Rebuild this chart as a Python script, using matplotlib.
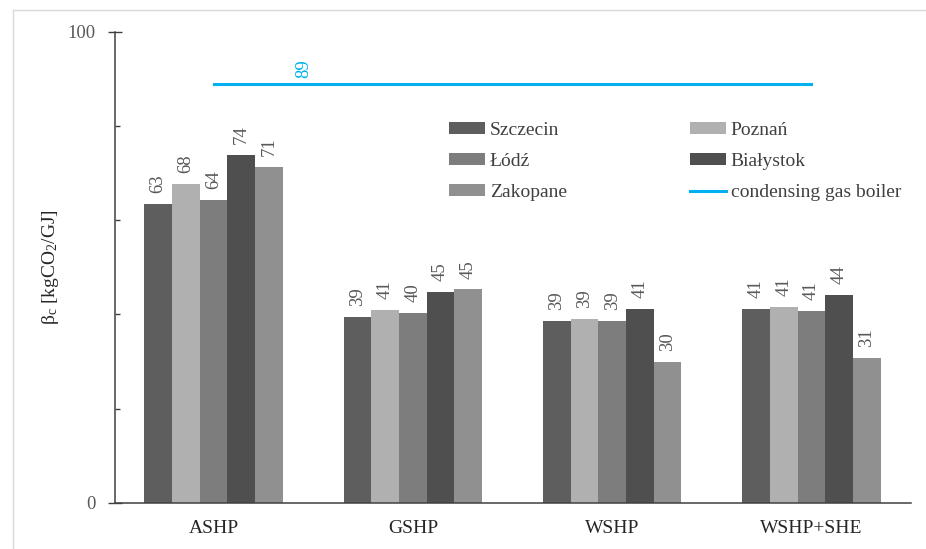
import matplotlib
matplotlib.use("Agg")
import matplotlib.pyplot as plt
from matplotlib.lines import Line2D
import numpy as np

plt.rcParams['font.family'] = ['Liberation Serif', 'DejaVu Serif']
plt.rcParams['mathtext.fontset'] = 'custom'
plt.rcParams['mathtext.rm'] = 'Liberation Serif'
plt.rcParams['mathtext.it'] = 'Liberation Serif:italic'

categories = ['ASHP', 'GSHP', 'WSHP', 'WSHP+SHE']
cities = ['Szczecin', 'Poznań', 'Łódź', 'Białystok', 'Zakopane']
values = {
    'Szczecin':  [63.4, 39.4, 38.7, 41.2],
    'Poznań':    [67.8, 40.9, 39.0, 41.5],
    'Łódź':      [64.4, 40.3, 38.7, 40.8],
    'Białystok': [73.8, 44.7, 41.2, 44.1],
    'Zakopane':  [71.3, 45.3, 29.9, 30.8],
}
labels = {
    'Szczecin':  [63, 39, 39, 41],
    'Poznań':    [68, 41, 39, 41],
    'Łódź':      [64, 40, 39, 41],
    'Białystok': [74, 45, 41, 44],
    'Zakopane':  [71, 45, 30, 31],
}
gas_boiler = 89
gas_label = '89'
colors = {
    'Szczecin': '#5E5E5E',
    'Poznań': '#B0B0B0',
    'Łódź': '#7D7D7D',
    'Białystok': '#4F4F4F',
    'Zakopane': '#909090',
}

fig = plt.figure(figsize=(9.26, 5.49), dpi=100)
ax = fig.add_axes([115/926, 46.3/549, 796/926, 470.7/549])

x = np.arange(len(categories))
w = 0.139
bars = {}
for i, c in enumerate(cities):
    pos = x + (i - 2) * w
    bars[c] = ax.bar(pos, values[c], width=w, color=colors[c], label=c, zorder=2)
    for px, v, lab in zip(pos, values[c], labels[c]):
        ax.annotate(str(lab), xy=(px, v), xytext=(0, 7.9), textcoords='offset points',
                    rotation=90, ha='center', va='bottom', color='#595959', fontsize=13.5)

gl, = ax.plot([x[0], x[-1]], [gas_boiler, gas_boiler], color='#00B0F0', lw=2.2,
              solid_capstyle='projecting', label='condensing gas boiler', zorder=3)
ax.annotate(gas_label, xy=(0.45, gas_boiler), xytext=(0, 4.3), textcoords='offset points',
            rotation=90, ha='center', va='bottom', color='#00B0F0', fontsize=13.5)

ax.set_xlim(-0.495, 3.5)
ax.set_ylim(0, 100)
ax.set_xticks(x)
ax.set_xticklabels(categories)
ax.set_yticks([0, 100])
ax.set_yticks([20, 40, 60, 80], minor=True)
ax.tick_params(axis='x', length=0, pad=12.5, labelsize=14, labelcolor='#262626')
ax.tick_params(axis='y', which='major', direction='inout', length=9.4, width=1,
               color='#404040', pad=9, labelsize=13.5, labelcolor='#595959')
ax.tick_params(axis='y', which='minor', direction='in', length=3.6, width=1, color='#404040')

for s in ['top', 'right']:
    ax.spines[s].set_visible(False)
for s in ['left', 'bottom']:
    ax.spines[s].set_color('#404040')
    ax.spines[s].set_linewidth(1.1)

ax.set_ylabel(r'$\mathregular{\beta_c\ [kgCO_2/GJ]}$', fontsize=14, color='#262626')
ax.yaxis.set_label_coords(-0.068, 0.5)

handles = [bars['Szczecin'], bars['Łódź'], bars['Zakopane'], bars['Poznań'], bars['Białystok'], gl]
hl = ['Szczecin', 'Łódź', 'Zakopane', 'Poznań', 'Białystok', 'condensing gas boiler']
leg = ax.legend(handles, hl, ncol=2, loc='upper left', bbox_to_anchor=(0.4196, 0.809),
                frameon=False, borderpad=0, borderaxespad=0, handlelength=1.85,
                handleheight=0.57, handletextpad=0.26, columnspacing=6.3,
                labelspacing=0.725, fontsize=14)
for t in leg.get_texts():
    t.set_color('#404040')

fig.add_artist(Line2D([12.5/926, 1], [1 - 9.5/549, 1 - 9.5/549], transform=fig.transFigure,
                      color='#D9D9D9', lw=1))
fig.add_artist(Line2D([12.5/926, 12.5/926], [0, 1 - 9.5/549], transform=fig.transFigure,
                      color='#D9D9D9', lw=1))

fig.savefig('out.png', dpi=100)
